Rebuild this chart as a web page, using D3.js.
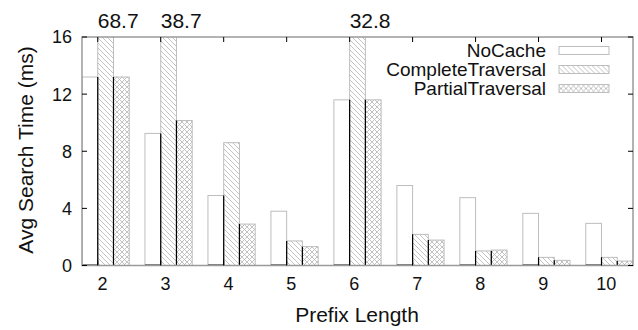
<!DOCTYPE html>
<html>
<head>
<meta charset="utf-8">
<script src="https://cdn.jsdelivr.net/npm/d3@7"></script>
<style>
  body { margin: 0; background: #fff; }
  svg { display: block; font-family: "Liberation Sans", Arial, Helvetica, sans-serif; }
</style>
</head>
<body>
<svg id="chart" width="638" height="330"></svg>
<script>
const prefixLengths = [2, 3, 4, 5, 6, 7, 8, 9, 10];
const seriesNames = ['NoCache', 'CompleteTraversal', 'PartialTraversal'];
const noCache = [13.2, 9.25, 4.9, 3.8, 11.6, 5.6, 4.75, 3.65, 2.95];
const completeTraversal = [68.7, 38.7, 8.6, 1.72, 32.8, 2.18, 1.02, 0.57, 0.57];
const partialTraversal = [13.2, 10.15, 2.9, 1.32, 11.6, 1.78, 1.08, 0.36, 0.31];
const yTicks = [0, 4, 8, 12, 16];
const yMax = 16;

const margin = { top: 37, right: 5, bottom: 64.5, left: 82 };
const width = 638 - margin.left - margin.right;
const height = 330 - margin.top - margin.bottom;

const svg = d3.select('#chart');

// fill patterns
const defs = svg.append('defs');
const hatch = defs.append('pattern')
  .attr('id', 'hatch')
  .attr('patternUnits', 'userSpaceOnUse')
  .attr('width', 5).attr('height', 5);
hatch.append('path')
  .attr('d', 'M0,0 L5,5 M-1,4 L1,6 M4,-1 L6,1')
  .attr('stroke', '#b4b4b4').attr('stroke-width', 0.8);

const cross = defs.append('pattern')
  .attr('id', 'cross')
  .attr('patternUnits', 'userSpaceOnUse')
  .attr('width', 5).attr('height', 5);
cross.append('path')
  .attr('d', 'M0,0 L5,5 M-1,4 L1,6 M4,-1 L6,1 M0,5 L5,0 M-1,1 L1,-1 M4,6 L6,4')
  .attr('stroke', '#b4b4b4').attr('stroke-width', 0.8);

defs.append('clipPath').attr('id', 'plotClip')
  .append('rect').attr('width', width).attr('height', height);

const fills = ['#fff', 'url(#hatch)', 'url(#cross)'];

const g = svg.append('g')
  .attr('transform', 'translate(' + margin.left + ',' + margin.top + ')');

// group position at the NoCache/Complete boundary; bars are 0.25 wide
const x = d3.scaleLinear()
  .domain([prefixLengths[0] - 0.25, prefixLengths[prefixLengths.length - 1] + 0.5])
  .range([0, width]);
const barW = x(0.25) - x(0);

const y = d3.scaleLinear()
  .domain([0, yMax])
  .range([height, 0]);

const data = prefixLengths.map((p, i) => ({
  p: p,
  vals: [noCache[i], completeTraversal[i], partialTraversal[i]]
}));

const bars = g.append('g').attr('clip-path', 'url(#plotClip)');

data.forEach(d => {
  d.vals.forEach((v, s) => {
    const x0 = x(d.p) + (s - 1) * barW;
    const top = y(Math.min(v, yMax + 1));
    bars.append('rect')
      .attr('x', x0)
      .attr('y', top)
      .attr('width', barW)
      .attr('height', height - top)
      .attr('fill', fills[s])
      .attr('stroke', '#bdbdbd')
      .attr('stroke-width', 1);
  });
  // shared edges and NoCache bottom show up black
  const h = d.vals.map(v => Math.min(v, yMax));
  bars.append('line')
    .attr('x1', x(d.p)).attr('x2', x(d.p))
    .attr('y1', height).attr('y2', y(Math.min(h[0], h[1])))
    .attr('stroke', '#000').attr('stroke-width', 1.2);
  bars.append('line')
    .attr('x1', x(d.p) + barW).attr('x2', x(d.p) + barW)
    .attr('y1', height).attr('y2', y(Math.min(h[1], h[2])))
    .attr('stroke', '#000').attr('stroke-width', 1.2);
  bars.append('line')
    .attr('x1', x(d.p) - barW).attr('x2', x(d.p))
    .attr('y1', height - 0.5).attr('y2', height - 0.5)
    .attr('stroke', '#000').attr('stroke-width', 1.2);
});

// labels for values that go off the top
g.selectAll('.over')
  .data(data.filter(d => d.vals[1] > yMax))
  .enter().append('text')
  .attr('class', 'over')
  .attr('x', d => x(d.p))
  .attr('y', -9)
  .attr('font-size', 21)
  .attr('fill', '#111')
  .text(d => d.vals[1].toFixed(1));

// border
g.append('rect')
  .attr('width', width).attr('height', height)
  .attr('fill', 'none')
  .attr('stroke', '#9a9a9a')
  .attr('stroke-width', 1.5);

// y ticks, both sides
const yAxis = g.append('g');
yTicks.forEach(t => {
  yAxis.append('line').attr('x1', 0).attr('x2', 5).attr('y1', y(t)).attr('y2', y(t))
    .attr('stroke', '#000').attr('stroke-width', 1);
  yAxis.append('line').attr('x1', width).attr('x2', width - 5).attr('y1', y(t)).attr('y2', y(t))
    .attr('stroke', '#000').attr('stroke-width', 1);
  yAxis.append('text')
    .attr('x', -10).attr('y', y(t))
    .attr('dy', '0.36em')
    .attr('text-anchor', 'end')
    .attr('font-size', 18)
    .attr('fill', '#111')
    .text(t);
});

// x ticks, bottom and top
const xAxis = g.append('g');
prefixLengths.forEach(p => {
  xAxis.append('line').attr('x1', x(p)).attr('x2', x(p)).attr('y1', 0).attr('y2', 5)
    .attr('stroke', '#000').attr('stroke-width', 1);
  xAxis.append('line').attr('x1', x(p)).attr('x2', x(p)).attr('y1', height).attr('y2', height - 5)
    .attr('stroke', '#000').attr('stroke-width', 1);
  xAxis.append('text')
    .attr('x', x(p) + barW * 0.3).attr('y', height + 24)
    .attr('text-anchor', 'middle')
    .attr('font-size', 18)
    .attr('fill', '#111')
    .text(p);
});

// axis titles
svg.append('text')
  .attr('transform', 'translate(33,150) rotate(-90)')
  .attr('text-anchor', 'middle')
  .attr('font-size', 21)
  .attr('fill', '#111')
  .text('Avg Search Time (ms)');

svg.append('text')
  .attr('x', 357).attr('y', 322)
  .attr('text-anchor', 'middle')
  .attr('font-size', 21)
  .attr('fill', '#111')
  .text('Prefix Length');

// legend
const legend = svg.selectAll('.legend')
  .data(seriesNames)
  .enter().append('g')
  .attr('class', 'legend')
  .attr('transform', (_, i) => 'translate(546,' + (50.5 + i * 19) + ')');

legend.append('text')
  .attr('x', 0).attr('y', 0)
  .attr('dy', '0.36em')
  .attr('text-anchor', 'end')
  .attr('font-size', 19)
  .attr('fill', '#111')
  .text(d => d);

legend.append('rect')
  .attr('x', 13).attr('y', -4)
  .attr('width', 50).attr('height', 8)
  .attr('fill', (_, i) => fills[i])
  .attr('stroke', '#bdbdbd')
  .attr('stroke-width', 1);
</script>
</body>
</html>
